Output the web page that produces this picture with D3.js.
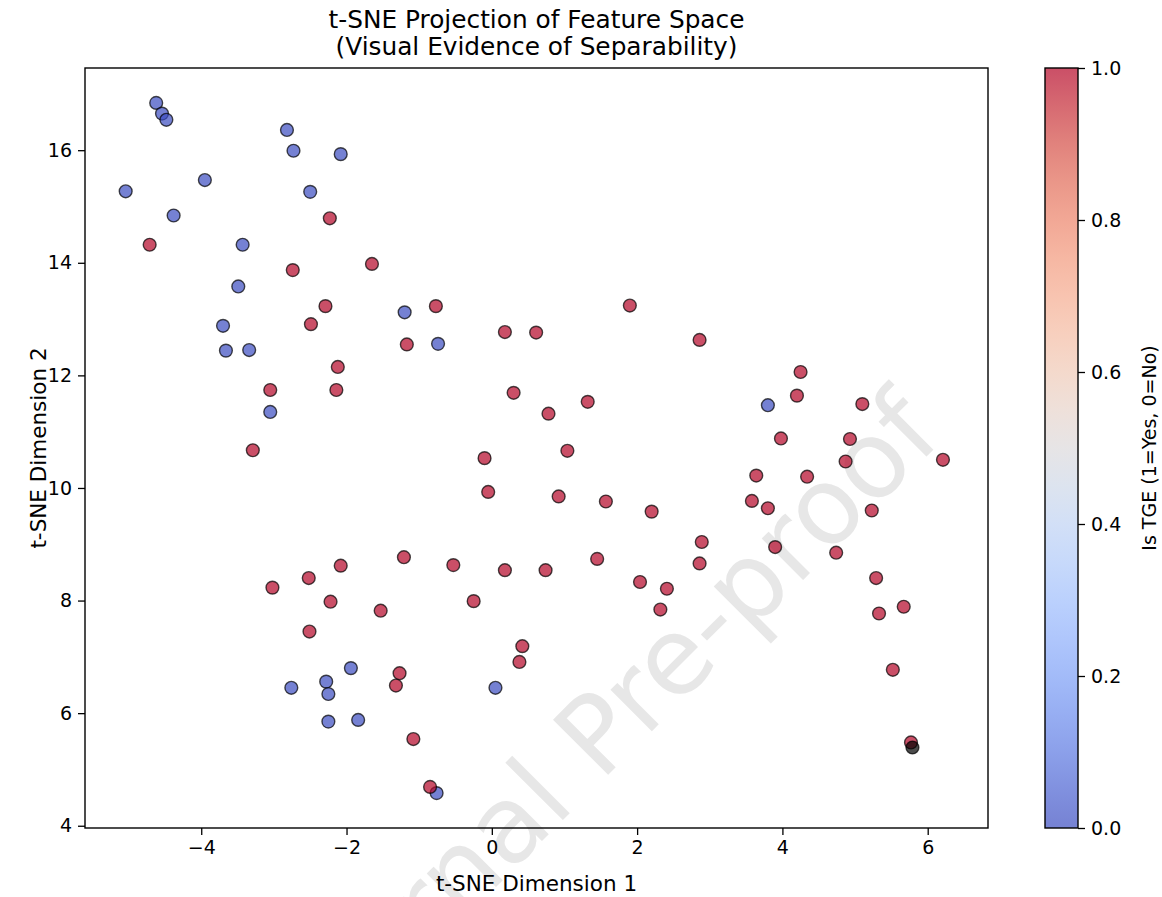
<!DOCTYPE html>
<html><head><meta charset="utf-8">
<script src="https://cdn.jsdelivr.net/npm/d3@7"></script>
<style>body{margin:0;background:#fff}svg{display:block}text{font-family:"DejaVu Sans",sans-serif;fill:#000}</style>
</head><body>
<svg id="chart" width="1162" height="897"></svg>
<script>
// ---- data ----
const tsneX = [-4.62,-4.54,-4.48,-5.04,-3.95,-4.38,-2.82,-2.73,-2.08,-2.50,-3.43,-3.49,-3.70,-3.66,-3.34,-3.05,-1.20,-0.74,-2.76,-2.28,-2.25,-1.94,-2.25,-1.84,0.05,-0.76,3.80,
 -4.71,-2.23,-2.74,-1.65,-2.29,-2.49,-2.12,-2.14,-3.05,-3.29,-0.77,-1.17,0.18,0.61,0.30,0.78,1.32,1.04,-0.10,-0.05,0.92,1.57,-1.21,-0.53,0.18,0.74,1.45,-2.08,-2.52,-3.02,-2.22,-1.53,-2.51,-0.25,0.42,0.38,-1.27,-1.32,-1.08,-0.85,
 1.90,2.86,4.25,4.20,5.10,3.98,4.93,4.87,6.21,3.64,4.34,2.20,3.58,3.80,5.23,2.89,3.90,4.74,2.86,2.04,2.41,2.32,5.29,5.33,5.67,5.52,5.77,5.79];
const tsneY = [16.84,16.65,16.54,15.27,15.47,14.84,16.36,15.99,15.93,15.26,14.32,13.58,12.88,12.44,12.45,11.35,13.12,12.56,6.45,6.56,6.34,6.80,5.85,5.88,6.45,4.58,11.47,
 14.32,14.79,13.87,13.98,13.23,12.91,12.15,11.74,11.74,10.67,13.23,12.55,12.77,12.76,11.69,11.32,11.53,10.66,10.53,9.93,9.85,9.76,8.77,8.63,8.54,8.54,8.74,8.62,8.40,8.23,7.98,7.82,7.45,7.99,7.19,6.91,6.71,6.49,5.54,4.69,
 13.24,12.63,12.06,11.64,11.49,10.88,10.87,10.47,10.50,10.22,10.20,9.58,9.77,9.64,9.60,9.04,8.95,8.85,8.66,8.33,8.21,7.84,8.40,7.77,7.89,6.77,5.48,5.39];
const isTGE = [0,0,0,0,0,0,0,0,0,0,0,0,0,0,0,0,0,0,0,0,0,0,0,0,0,0,0,
 1,1,1,1,1,1,1,1,1,1,1,1,1,1,1,1,1,1,1,1,1,1,1,1,1,1,1,1,1,1,1,1,1,1,1,1,1,1,1,1,
 1,1,1,1,1,1,1,1,1,1,1,1,1,1,1,1,1,1,1,1,1,1,1,1,1,1,1];
const xTicks = [-4,-2,0,2,4,6];
const yTicks = [4,6,8,10,12,14,16];
const cbTicks = [0.0,0.2,0.4,0.6,0.8,1.0];
const xDomain = [-5.6, 6.83];
const yDomain = [3.96, 17.46];
const coolwarmStops = ["#3b4cc0","#5977e3","#7b9ff9","#9ebeff","#c0d4f5","#dddddd","#f2cbb7","#f7ac8e","#ee8468","#d65244","#b40426"];
const titleLines = ["t-SNE Projection of Feature Space","(Visual Evidence of Separability)"];

// ---- layout ----
const svg = d3.select("#chart");
const P = {left:85, top:68, right:988, bottom:828};
const CB = {x:1045, w:33};
const TICK = 7, FS = 19, LFS = 21.5;

const x = d3.scaleLinear().domain(xDomain).range([P.left, P.right]);
const y = d3.scaleLinear().domain(yDomain).range([P.bottom, P.top]);
const cmap = d3.interpolateRgbBasis(coolwarmStops);
const color = d3.scaleSequential(cmap).domain([0,1]);

// watermark (behind everything)
svg.append("text")
  .attr("transform","translate(630,753) rotate(-45)")
  .attr("text-anchor","middle")
  .style("font-size","107px")
  .style("fill","#e7e7e7")
  .text("Journal Pre-proof");

// points
const pts = tsneX.map((d,i)=>({x:d,y:tsneY[i],c:isTGE[i]}));
svg.append("g").selectAll("circle").data(pts).join("circle")
  .attr("cx",d=>x(d.x)).attr("cy",d=>y(d.y)).attr("r",6.4)
  .attr("fill",d=>color(d.c)).attr("fill-opacity",0.7)
  .attr("stroke","#000").attr("stroke-opacity",0.7).attr("stroke-width",1.4);

// axes
const gx = svg.append("g").attr("transform",`translate(0,${P.bottom})`)
  .call(d3.axisBottom(x).tickValues(xTicks).tickSize(TICK).tickPadding(6).tickFormat(d=>d<0?"\u2212"+Math.abs(d):d));
const gy = svg.append("g").attr("transform",`translate(${P.left},0)`)
  .call(d3.axisLeft(y).tickValues(yTicks).tickSize(TICK).tickPadding(6));
[gx,gy].forEach(g=>{g.selectAll("text").style("font-size",FS+"px").style("font-family","DejaVu Sans");
  g.selectAll("line").attr("stroke","#000").attr("stroke-width",1.3); g.select(".domain").remove();});
svg.append("rect").attr("x",P.left).attr("y",P.top).attr("width",P.right-P.left).attr("height",P.bottom-P.top)
  .attr("fill","none").attr("stroke","#000").attr("stroke-width",1.4);

// labels
svg.append("text").attr("x",(P.left+P.right)/2).attr("y",891).attr("text-anchor","middle").style("font-size",LFS+"px").text("t-SNE Dimension 1");
svg.append("text").attr("transform",`translate(38,${(P.top+P.bottom)/2}) rotate(-90)`).attr("text-anchor","middle").attr("dy","0.35em").style("font-size",LFS+"px").text("t-SNE Dimension 2");
svg.append("g").selectAll("text").data(titleLines).join("text")
  .attr("x",(P.left+P.right)/2).attr("y",(d,i)=>28+i*27).attr("text-anchor","middle").style("font-size","24.8px").text(d=>d);

// colorbar
const defs = svg.append("defs");
const grad = defs.append("linearGradient").attr("id","cw").attr("x1",0).attr("y1",1).attr("x2",0).attr("y2",0);
d3.range(0,1.0001,0.05).forEach(t=>grad.append("stop").attr("offset",t).attr("stop-color",cmap(t)).attr("stop-opacity",0.7));
svg.append("rect").attr("x",CB.x).attr("y",P.top).attr("width",CB.w).attr("height",P.bottom-P.top).attr("fill","url(#cw)");
const cy = d3.scaleLinear().domain([0,1]).range([P.bottom,P.top]);
const gc = svg.append("g").attr("transform",`translate(${CB.x+CB.w},0)`)
  .call(d3.axisRight(cy).tickValues(cbTicks).tickSize(TICK).tickPadding(6).tickFormat(d3.format(".1f")));
gc.selectAll("text").style("font-size",FS+"px").style("font-family","DejaVu Sans");
gc.selectAll("line").attr("stroke","#000").attr("stroke-width",1.3); gc.select(".domain").remove();
svg.append("rect").attr("x",CB.x).attr("y",P.top).attr("width",CB.w).attr("height",P.bottom-P.top).attr("fill","none").attr("stroke","#000").attr("stroke-width",1.4);
svg.append("text").attr("transform",`translate(1149,${(P.top+P.bottom)/2}) rotate(-90)`).attr("text-anchor","middle").attr("dy","0.35em").style("font-size","19px").text("Is TGE (1=Yes, 0=No)");
</script>
</body></html>
